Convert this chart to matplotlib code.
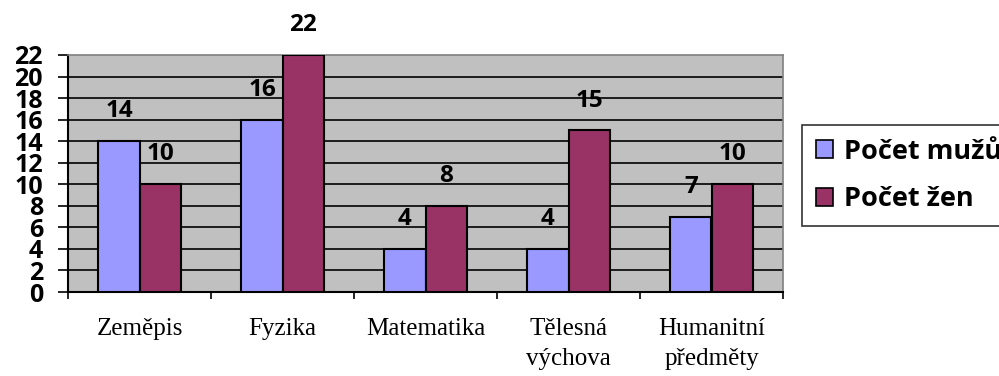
import matplotlib
matplotlib.use("Agg")
import matplotlib.pyplot as plt
from matplotlib.patches import Patch
import numpy as np

categories = ["Zeměpis", "Fyzika", "Matematika", "Tělesná\nvýchova", "Humanitní\npředměty"]
muzi = [14, 16, 4, 4, 7]
zeny = [10, 22, 8, 15, 10]
series_names = ["Počet mužů", "Počet žen"]
yticks = list(range(0, 23, 2))

W, H = 999, 376
fig = plt.figure(figsize=(W / 100, H / 100), dpi=100)
fig.patch.set_facecolor("white")

left, right, top, bottom = 68, 783, 55, 292
ax = fig.add_axes([left / W, 1 - bottom / H, (right - left) / W, (bottom - top) / H])
ax.set_facecolor("#C0C0C0")

blue = "#9999FF"
maroon = "#993366"
bw = 0.287
x = np.arange(len(categories)) + 0.5

b1 = ax.bar(x - bw / 2, muzi, bw, color=blue, edgecolor="black", linewidth=1.5, zorder=3)
b2 = ax.bar(x + bw / 2, zeny, bw, color=maroon, edgecolor="black", linewidth=1.5, zorder=3)

lab_font = dict(family="Open Sans", weight="bold", size=17.5)
for bars, vals in ((b1, muzi), (b2, zeny)):
    for r, v in zip(bars, vals):
        ax.annotate(str(v), (r.get_x() + r.get_width() / 2, v), xytext=(0, 21.5),
                    textcoords="offset points", ha="center", va="center",
                    annotation_clip=False, **lab_font)

ax.set_xlim(0, len(categories))
ax.set_ylim(0, 22)

# horizontal gridlines
for t in yticks[1:-1]:
    ax.axhline(t, color="black", linewidth=1.2, zorder=1)

ax.spines["top"].set_color("#808080")
ax.spines["right"].set_color("#808080")
ax.spines["top"].set_linewidth(1.2)
ax.spines["right"].set_linewidth(1.2)
ax.spines["left"].set_linewidth(1.5)
ax.spines["bottom"].set_linewidth(1.5)

ax.set_yticks(yticks)
ax.set_yticklabels([str(t) for t in yticks], fontfamily="Open Sans", fontweight="bold", fontsize=18)
ax.tick_params(axis="y", length=7, width=1.2, pad=11)

ax.set_xticks(np.arange(len(categories) + 1))
ax.set_xticklabels([])
ax.tick_params(axis="x", which="major", length=5, width=1.2)
ax.set_xticks(x, minor=True)
ax.set_xticklabels(categories, minor=True, fontfamily="Liberation Serif", fontsize=18,
                   linespacing=1.45)
ax.tick_params(axis="x", which="minor", length=0, pad=19)

handles = [Patch(facecolor=blue, edgecolor="black", linewidth=1.2),
           Patch(facecolor=maroon, edgecolor="black", linewidth=1.2)]
leg = fig.legend(handles, series_names, loc="upper left",
                 bbox_to_anchor=(802 / W, 1 - 125 / H),
                 prop=dict(family="Open Sans", weight="bold", size=19.5),
                 frameon=True, fancybox=False, edgecolor="black",
                 handlelength=0.65, handleheight=0.65, handletextpad=0.4,
                 labelspacing=0.8, borderpad=0.5, borderaxespad=0)
leg.get_frame().set_linewidth(1.2)

fig.savefig("out.png", dpi=100)
